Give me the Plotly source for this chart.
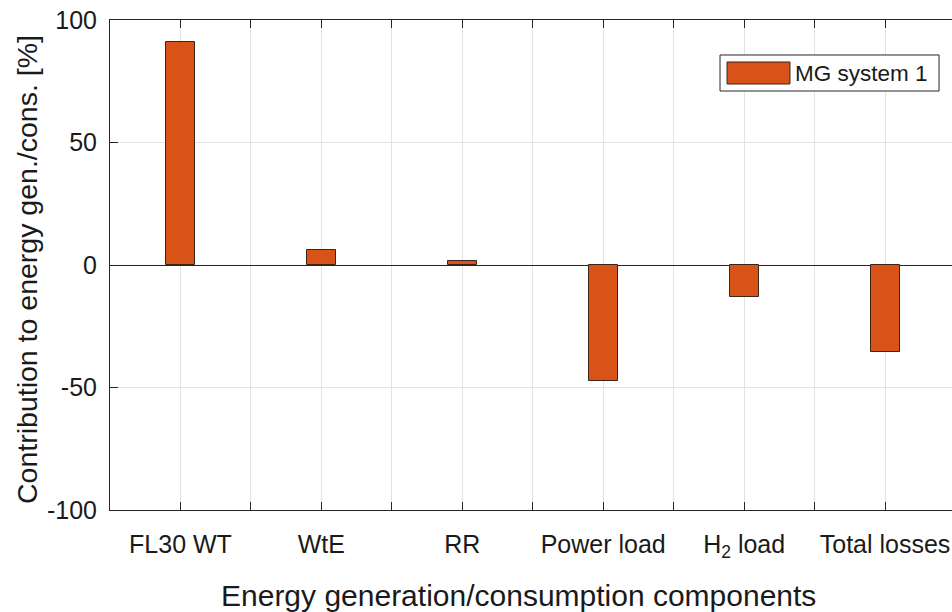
import plotly.graph_objects as go

categories = ["FL30 WT", "WtE", "RR", "Power load", "H<sub>2</sub> load", "Total losses"]
values = [91.2, 6.0, 1.6, -47.3, -13.0, -35.5]
series_name = "MG system 1"
x_title = "Energy generation/consumption components"
y_title = "Contribution to energy gen./cons. [%]"
y_ticks = [-100, -50, 0, 50, 100]
y_tick_labels = ["-100", "-50", "0", "50", "100"]

x_pos = [i + 1 for i in range(len(categories))]

BAR = "#D95319"
EDGE = "#3b2418"
AX = "#262626"
GRID = "#e3e3e3"
FONT = "Liberation Sans, Arial, Helvetica, sans-serif"

fig = go.Figure()
fig.add_trace(go.Bar(
    x=x_pos, y=values, name=series_name, width=0.205,
    marker=dict(color=BAR, line=dict(color=EDGE, width=1)),
    showlegend=False,
))

fig.update_layout(
    width=952, height=612,
    margin=dict(l=110, r=0, t=20, b=102),
    paper_bgcolor="white", plot_bgcolor="white",
    font=dict(family=FONT, size=25, color="#1a1a1a"),
    bargap=0,
)
fig.update_xaxes(
    range=[0.5, 6.475],
    tickvals=x_pos, ticktext=categories,
    ticks="inside", ticklen=8, tickcolor=AX, tickwidth=1,
    showline=True, linecolor=AX, linewidth=1, mirror="ticks",
    showgrid=True, gridcolor=GRID, gridwidth=1,
    minor=dict(tick0=1.5, dtick=1, ticks="inside", ticklen=8, tickcolor=AX,
               tickwidth=1, showgrid=True, gridcolor=GRID, gridwidth=1),
    tickfont=dict(size=25),
    ticklabelstandoff=12,
    ticklabeloverflow="allow",
    zeroline=False,
)
fig.update_yaxes(
    range=[-100, 100],
    tickvals=y_ticks, ticktext=y_tick_labels,
    ticks="inside", ticklen=8, tickcolor=AX, tickwidth=1,
    showline=True, linecolor=AX, linewidth=1, mirror=False,
    showgrid=True, gridcolor=GRID, gridwidth=1,
    zeroline=True, zerolinecolor=AX, zerolinewidth=1,
    tickfont=dict(size=25),
    ticklabelstandoff=7,
    ticklabeloverflow="allow",
)

# axis labels (placed like the MATLAB xlabel / ylabel)
fig.add_annotation(xref="paper", yref="paper", x=0.4846, y=-0.1755,
                   text=x_title, showarrow=False, xanchor="center", yanchor="middle",
                   font=dict(size=30, family=FONT, color="#1a1a1a"))
fig.add_annotation(xref="paper", yref="paper", x=-0.0986, y=0.4918,
                   text=y_title, showarrow=False, xanchor="center", yanchor="middle",
                   textangle=-90,
                   font=dict(size=28.5, family=FONT, color="#1a1a1a"))

# legend box drawn in MATLAB style
fig.add_shape(type="rect", xref="paper", yref="paper",
              x0=0.7245, x1=0.9846, y0=0.8551, y1=0.9286,
              line=dict(color=AX, width=1), fillcolor="white", layer="above")
fig.add_shape(type="rect", xref="paper", yref="paper",
              x0=0.7328, x1=0.8076, y0=0.8694, y1=0.9143,
              line=dict(color=EDGE, width=1), fillcolor=BAR, layer="above")
fig.add_annotation(xref="paper", yref="paper", x=0.811, y=0.8918,
                   text=series_name, showarrow=False, xanchor="left", yanchor="middle",
                   font=dict(size=22.5, family=FONT, color="#1a1a1a"))

fig.write_html("out.html", config={"displayModeBar": False},
               post_script="document.body.style.margin='0px';document.body.style.overflow='hidden';")
